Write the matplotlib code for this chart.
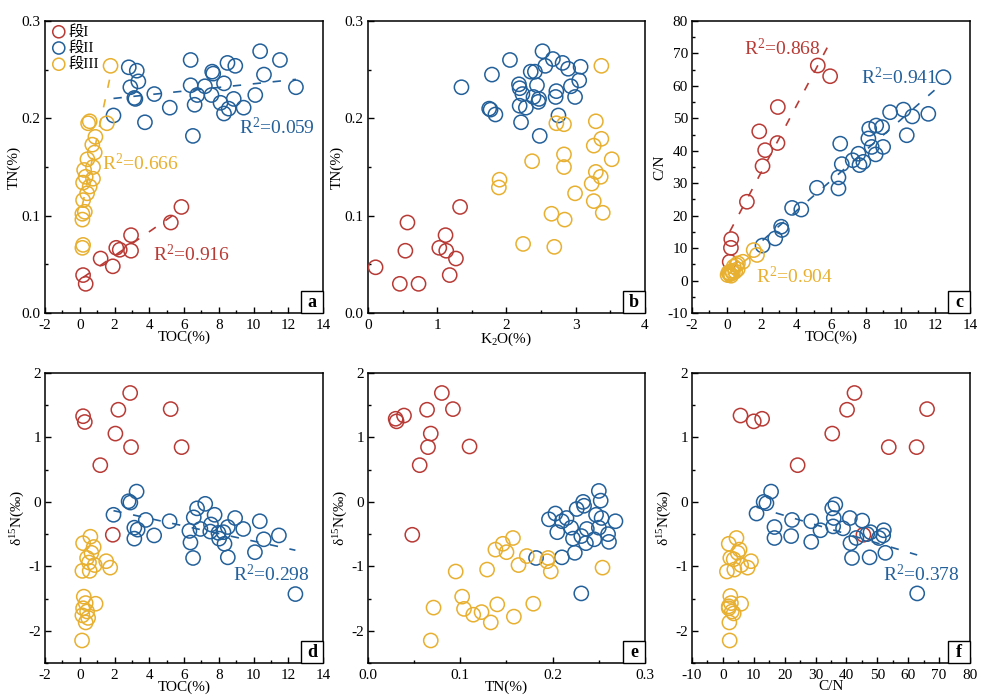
import numpy as np
import matplotlib
matplotlib.use('Agg')
import matplotlib.pyplot as plt
from matplotlib.patches import Rectangle
from matplotlib.ticker import MultipleLocator

plt.rcParams['font.family'] = ['Liberation Serif', 'Noto Sans CJK SC']
plt.rcParams['mathtext.fontset'] = 'custom'
plt.rcParams['mathtext.rm'] = 'Liberation Serif'
plt.rcParams['mathtext.it'] = 'Liberation Serif:italic'
plt.rcParams['axes.unicode_minus'] = False

RED = '#b83a35'
BLUE = '#23609a'
YEL = '#e8b030'
group_labels = ['段I', '段II', '段III']

# ---- panel a: TOC vs TN
a_red_toc = [0.34, 0.19, 1.2, 1.9, 2.1, 2.3, 2.95, 2.95, 5.24, 5.85]
a_red_tn = [0.030, 0.039, 0.056, 0.048, 0.067, 0.065, 0.080, 0.064, 0.093, 0.109]
a_blue_toc = [2.82, 3.28, 3.37, 2.91, 3.14, 3.2, 1.94, 3.75, 4.29, 5.18, 6.38, 6.38, 6.51, 6.61, 6.76, 7.2,
              7.62, 7.68, 7.58, 8.1, 8.3, 8.57, 8.3, 8.5, 8.95, 8.86, 9.43, 10.1, 10.38, 10.6, 11.52, 12.44]
a_blue_tn = [0.2525, 0.249, 0.238, 0.232, 0.221, 0.220, 0.203, 0.196, 0.225, 0.211, 0.260, 0.234, 0.182, 0.214,
             0.224, 0.233, 0.248, 0.246, 0.224, 0.216, 0.205, 0.210, 0.236, 0.257, 0.254, 0.220, 0.211, 0.224,
             0.269, 0.245, 0.260, 0.232]
a_yel_toc = [1.77, 0.57, 0.48, 1.56, 0.9, 0.72, 0.86, 0.44, 0.76, 0.25, 0.34, 0.76, 0.19, 0.57, 0.42, 0.19,
             0.29, 0.15, 0.15, 0.19, 0.15]
a_yel_tn = [0.254, 0.197, 0.195, 0.195, 0.181, 0.173, 0.165, 0.158, 0.150, 0.147, 0.140, 0.138, 0.134, 0.130,
            0.123, 0.116, 0.104, 0.102, 0.096, 0.070, 0.067]

# ---- panel b: K2O vs TN
b_red_k2o = [0.11, 0.46, 0.73, 0.57, 0.54, 1.03, 1.12, 1.13, 1.27, 1.18, 1.33]
b_red_tn = [0.047, 0.030, 0.030, 0.093, 0.064, 0.067, 0.080, 0.064, 0.056, 0.039, 0.109]
b_blue_k2o = [1.35, 1.79, 1.75, 1.77, 1.84, 2.05, 2.18, 2.19, 2.19, 2.21, 2.23, 2.28, 2.35, 2.41, 2.44, 2.39,
              2.46, 2.47, 2.48, 2.56, 2.52, 2.67, 2.72, 2.71, 2.75, 2.81, 2.89, 2.93, 2.99, 3.05, 3.07]
b_blue_tn = [0.232, 0.245, 0.210, 0.209, 0.204, 0.260, 0.235, 0.231, 0.213, 0.196, 0.225, 0.211, 0.248, 0.248,
             0.234, 0.222, 0.217, 0.220, 0.182, 0.254, 0.269, 0.261, 0.228, 0.222, 0.203, 0.257, 0.251, 0.233,
             0.222, 0.239, 0.253]
b_yel_k2o = [3.37, 3.29, 2.72, 2.83, 3.26, 3.37, 3.52, 2.37, 2.83, 2.83, 1.90, 1.89, 3.29, 3.36, 3.23, 2.99,
             3.26, 3.39, 2.65, 2.84, 2.24, 2.69]
b_yel_tn = [0.254, 0.197, 0.195, 0.194, 0.172, 0.179, 0.158, 0.156, 0.163, 0.150, 0.137, 0.129, 0.145, 0.140,
            0.133, 0.123, 0.115, 0.103, 0.102, 0.096, 0.071, 0.068]

# ---- panel c: TOC vs C/N
c_red_toc = [5.24, 5.95, 2.94, 2.92, 1.87, 2.21, 2.06, 1.16, 0.26, 0.24, 0.17]
c_red_cn = [66.3, 63.0, 53.5, 42.4, 46.0, 40.2, 35.3, 24.3, 12.8, 10.1, 5.8]
c_blue_toc = [12.47, 11.6, 10.68, 10.17, 9.4, 10.36, 9.0, 8.94, 8.6, 8.2, 8.15, 8.34, 8.57, 7.86, 7.64, 7.58,
              7.25, 6.53, 6.62, 6.43, 6.43, 5.19, 4.29, 3.76, 3.13, 3.17, 2.79, 2.06]
c_blue_cn = [62.7, 51.4, 50.6, 52.7, 51.9, 44.8, 41.2, 47.3, 47.8, 46.8, 43.8, 41.2, 38.9, 36.6, 35.6, 39.1,
             37.1, 42.2, 35.9, 31.8, 28.4, 28.6, 21.9, 22.4, 16.6, 15.6, 13.0, 10.8]
c_yel_toc = [1.55, 1.74, 0.93, 0.64, 0.10, 0.20, 0.49, 0.40, 0.63, 0.05, 0.30, 0.15, 0.55, 0.25, 0.35]
c_yel_cn = [9.4, 7.9, 5.8, 5.3, 2.5, 2.0, 2.8, 4.3, 3.5, 1.7, 3.0, 2.2, 4.8, 1.5, 2.4]

# ---- panel d: TOC vs d15N
d_red_toc = [0.19, 0.29, 1.18, 1.9, 2.05, 2.22, 2.9, 2.95, 5.23, 5.86]
d_red_d15n = [1.33, 1.24, 0.57, -0.51, 1.06, 1.43, 1.69, 0.85, 1.44, 0.85]
d_blue_toc = [1.94, 2.81, 3.27, 2.91, 3.14, 3.33, 3.14, 3.8, 4.28, 5.17, 6.31, 6.37, 6.52, 6.56, 6.75, 6.94,
              7.22, 7.51, 7.55, 7.76, 7.98, 8.02, 8.33, 8.27, 8.52, 8.52, 8.94, 9.41, 10.08, 10.36, 10.59,
              11.46, 12.41]
d_blue_d15n = [-0.20, 0.01, 0.16, -0.01, -0.40, -0.43, -0.57, -0.28, -0.52, -0.30, -0.45, -0.63, -0.87, -0.24,
               -0.10, -0.42, -0.03, -0.46, -0.35, -0.20, -0.48, -0.57, -0.65, -0.47, -0.39, -0.86, -0.25,
               -0.42, -0.78, -0.30, -0.58, -0.52, -1.43]
d_yel_toc = [0.19, 0.61, 0.8, 0.67, 0.42, 0.53, 0.15, 0.57, 0.86, 1.52, 1.75, 0.23, 0.34, 0.19, 0.42, 0.15,
             0.34, 0.91, 0.13, 0.48]
d_yel_d15n = [-0.64, -0.54, -0.70, -0.79, -0.87, -0.94, -1.07, -1.07, -0.98, -0.92, -1.02, -1.47, -1.57, -1.65,
              -1.70, -1.76, -1.87, -1.58, -2.15, -1.80]

# ---- panel e: TN vs d15N
e_red_tn = [0.030, 0.031, 0.039, 0.056, 0.048, 0.064, 0.068, 0.065, 0.080, 0.092, 0.110]
e_red_d15n = [1.29, 1.25, 1.34, 0.57, -0.51, 1.43, 1.06, 0.85, 1.69, 1.44, 0.86]
e_blue_tn = [0.196, 0.203, 0.205, 0.210, 0.215, 0.210, 0.220, 0.222, 0.224, 0.226, 0.231, 0.233, 0.234, 0.237,
             0.236, 0.245, 0.247, 0.250, 0.252, 0.253, 0.250, 0.260, 0.261, 0.268, 0.231, 0.182]
e_blue_d15n = [-0.27, -0.18, -0.47, -0.30, -0.25, -0.86, -0.40, -0.57, -0.79, -0.11, -0.53, 0.0, -0.06, -0.42,
               -0.64, -0.58, -0.20, 0.17, 0.02, -0.25, -0.40, -0.50, -0.62, -0.30, -1.42, -0.87]
e_yel_tn = [0.095, 0.129, 0.138, 0.146, 0.150, 0.157, 0.163, 0.172, 0.194, 0.195, 0.198, 0.254, 0.071, 0.068,
            0.102, 0.104, 0.114, 0.123, 0.133, 0.140, 0.158, 0.179]
e_yel_d15n = [-1.08, -1.05, -0.74, -0.65, -0.78, -0.56, -0.98, -0.84, -0.92, -0.87, -1.08, -1.02, -1.64, -2.15,
              -1.47, -1.66, -1.75, -1.71, -1.87, -1.59, -1.78, -1.58]

# ---- panel f: C/N vs d15N
f_red_cn = [5.7, 10.0, 12.7, 24.2, 35.4, 40.2, 42.6, 53.7, 62.7, 66.1, 45.5]
f_red_d15n = [1.34, 1.25, 1.29, 0.57, 1.06, 1.43, 1.69, 0.85, 0.85, 1.44, -0.51]
f_blue_cn = [10.9, 13.2, 14.1, 15.6, 16.7, 16.7, 22.4, 22.1, 28.6, 28.6, 31.6, 35.4, 36.4, 35.9, 35.7, 38.9,
             41.1, 41.3, 41.8, 43.2, 45.1, 46.7, 47.8, 47.5, 50.5, 52.1, 51.9, 52.6, 62.9]
f_blue_d15n = [-0.18, 0.0, -0.02, 0.16, -0.39, -0.56, -0.28, -0.53, -0.30, -0.62, -0.44, -0.10, -0.04, -0.25,
               -0.38, -0.41, -0.25, -0.64, -0.87, -0.56, -0.29, -0.50, -0.47, -0.86, -0.56, -0.44, -0.52,
               -0.79, -1.42]
f_yel_cn = [4.4, 1.9, 5.4, 4.8, 2.4, 3.5, 9.1, 8.0, 5.9, 1.3, 3.7, 2.4, 2.6, 5.9, 1.9, 3.5, 2.1, 2.2, 2.9, 1.9]
f_yel_d15n = [-0.56, -0.65, -0.74, -0.79, -0.87, -0.89, -0.92, -1.02, -0.98, -1.08, -1.05, -1.46, -1.57, -1.58,
              -1.65, -1.73, -1.87, -2.15, -1.70, -1.62]

# R2 labels: (panel, color, text, x, y)
r2_labels = [
    ('a', BLUE, '0.059', 9.15, 0.191),
    ('a', YEL, '0.666', 1.28, 0.154),
    ('a', RED, '0.916', 4.2, 0.060),
    ('c', RED, '0.868', 1.0, 71.4),
    ('c', BLUE, '0.941', 7.7, 62.7),
    ('c', YEL, '0.904', 1.7, 1.2),
    ('d', BLUE, '0.298', 8.8, -1.13),
    ('f', BLUE, '0.378', 51.8, -1.12),
]

fig = plt.figure(figsize=(9.81, 6.95), dpi=100)
lefts = [0.0459, 0.3751, 0.7054]
widths = [0.2834, 0.2824, 0.2834]
top_b, top_h = 0.5496, 0.4201
bot_b, bot_h = 0.046, 0.4173

axes = {}
for i, name in enumerate('abc'):
    axes[name] = fig.add_axes([lefts[i], top_b, widths[i], top_h])
for i, name in enumerate('def'):
    axes[name] = fig.add_axes([lefts[i], bot_b, widths[i], bot_h])

panels = {
    'a': [(a_red_toc, a_red_tn), (a_blue_toc, a_blue_tn), (a_yel_toc, a_yel_tn)],
    'b': [(b_red_k2o, b_red_tn), (b_blue_k2o, b_blue_tn), (b_yel_k2o, b_yel_tn)],
    'c': [(c_red_toc, c_red_cn), (c_blue_toc, c_blue_cn), (c_yel_toc, c_yel_cn)],
    'd': [(d_red_toc, d_red_d15n), (d_blue_toc, d_blue_d15n), (d_yel_toc, d_yel_d15n)],
    'e': [(e_red_tn, e_red_d15n), (e_blue_tn, e_blue_d15n), (e_yel_tn, e_yel_d15n)],
    'f': [(f_red_cn, f_red_d15n), (f_blue_cn, f_blue_d15n), (f_yel_cn, f_yel_d15n)],
}
# which groups get a dashed regression line
fits = {'a': [0, 1, 2], 'c': [0, 1, 2], 'd': [1], 'f': [1]}
colors = [RED, BLUE, YEL]

d15n_label = 'δ$^{15}$N(‰)'
settings = {
    'a': dict(xlim=(-2, 14), xmaj=2, xmin=1, ylim=(0, 0.3), ymaj=0.1, ymin=0.05, xl='TOC(%)', yl='TN(%)'),
    'b': dict(xlim=(0, 4), xmaj=1, xmin=0.5, ylim=(0, 0.3), ymaj=0.1, ymin=0.05, xl='K$_2$O(%)', yl='TN(%)'),
    'c': dict(xlim=(-2, 14), xmaj=2, xmin=1, ylim=(-10, 80), ymaj=10, ymin=5, xl='TOC(%)', yl='C/N'),
    'd': dict(xlim=(-2, 14), xmaj=2, xmin=1, ylim=(-2.5, 2), ymaj=1, ymin=0.5, xl='TOC(%)', yl=d15n_label),
    'e': dict(xlim=(0, 0.3), xmaj=0.1, xmin=0.05, ylim=(-2.5, 2), ymaj=1, ymin=0.5, xl='TN(%)', yl=d15n_label),
    'f': dict(xlim=(-10, 80), xmaj=10, xmin=5, ylim=(-2.5, 2), ymaj=1, ymin=0.5, xl='C/N', yl=d15n_label),
}

for name, ax in axes.items():
    s = settings[name]
    for gi, (x, y) in enumerate(panels[name]):
        ax.scatter(x, y, s=105, facecolors='none', edgecolors=colors[gi], linewidths=1.1,
                   label=group_labels[gi], zorder=3)
        if gi in fits.get(name, []):
            x = np.asarray(x)
            k, b = np.polyfit(x, y, 1)
            xx = np.array([x.min(), x.max()])
            ax.plot(xx, k*xx + b, color=colors[gi], lw=1.2, ls=(0, (5, 7)), zorder=4)

    ax.set_xlim(*s['xlim'])
    ax.set_ylim(*s['ylim'])
    ax.xaxis.set_major_locator(MultipleLocator(s['xmaj']))
    ax.xaxis.set_minor_locator(MultipleLocator(s['xmin']))
    ax.yaxis.set_major_locator(MultipleLocator(s['ymaj']))
    ax.yaxis.set_minor_locator(MultipleLocator(s['ymin']))
    ax.tick_params(which='both', direction='in', top=False, right=False, labelsize=11, width=1)
    ax.tick_params(which='major', length=4)
    ax.tick_params(which='minor', length=2.5)
    ax.tick_params(axis='x', which='major', pad=4)
    ax.tick_params(axis='y', which='major', pad=3)
    for sp in ax.spines.values():
        sp.set_linewidth(1.1)
    ax.set_xlabel(s['xl'], fontsize=11, labelpad=-1)
    ax.set_ylabel(s['yl'], fontsize=11, labelpad=1)

    # panel letter in a small box at the lower right corner
    ax.add_patch(Rectangle((1 - 0.078, 0), 0.078, 0.075, transform=ax.transAxes, fc='white', ec='k',
                           lw=1.0, zorder=5, clip_on=False))
    ax.text(1 - 0.039, 0.036, name, transform=ax.transAxes, ha='center', va='center',
            fontsize=13, fontweight='bold', zorder=6)

for name, col, val, x, y in r2_labels:
    axes[name].text(x, y, 'R$^2$=' + val, color=col, fontsize=14, ha='left', va='center', zorder=6)

axes['a'].legend(loc='upper left', frameon=False, fontsize=11, handletextpad=0.0, labelspacing=0.15,
                 borderaxespad=0.15, borderpad=0.1, handlelength=1.3, markerscale=0.85)

fig.savefig('out.png', dpi=100)
